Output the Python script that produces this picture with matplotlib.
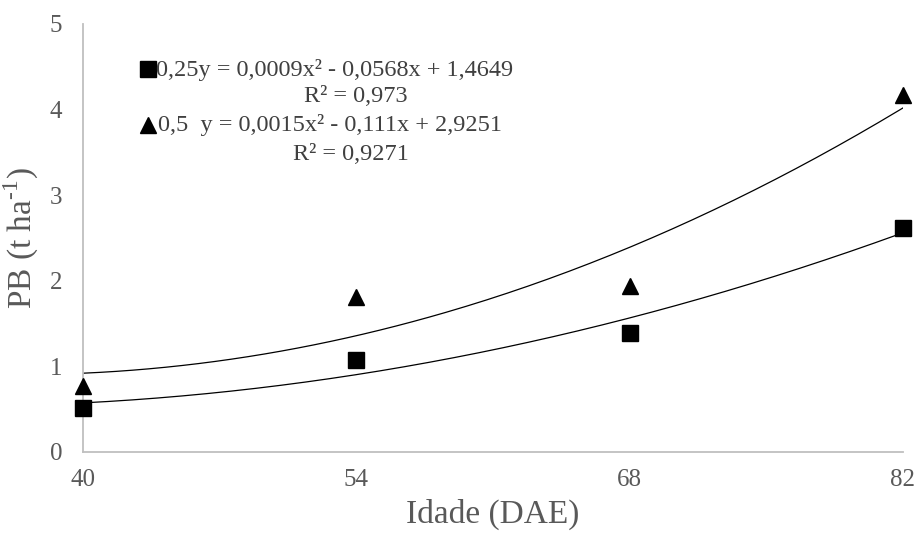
import numpy as np
import matplotlib
matplotlib.use("Agg")
import matplotlib.pyplot as plt

plt.rcParams["font.family"] = ["Liberation Serif", "DejaVu Serif"]
plt.rcParams["mathtext.fontset"] = "custom"
plt.rcParams["mathtext.rm"] = "Liberation Serif"

# data
idade = [40, 54, 68, 82]
pb_025 = [0.515, 1.08, 1.39, 2.62]
pb_05 = [0.77, 1.81, 1.94, 4.17]

eq_025 = "0,25y = 0,0009x² - 0,0568x + 1,4649"
r2_025 = "R² = 0,973"
eq_05 = "0,5  y = 0,0015x² - 0,111x + 2,9251"
r2_05 = "R² = 0,9271"

W, H = 918, 533
fig = plt.figure(figsize=(W / 100, H / 100), dpi=100)
ax = fig.add_axes([83 / W, 1 - 452 / H, (903 - 83) / W, (452 - 24) / H])


def px(x, y):
    return x / W, 1 - y / H


xs = np.linspace(40, 82, 200)
for y, m, ms in [(pb_025, "s", 11), (pb_05, "^", 12)]:
    coef = np.polyfit(idade, y, 2)
    ax.plot(xs, np.polyval(coef, xs), color="black", lw=0.9, zorder=2)
    ax.plot(idade, y, ls="none", marker=m, ms=ms, color="black", clip_on=False, zorder=3)

ax.set_xlim(40, 82)
ax.set_ylim(0, 5)
ax.set_xticks(idade)
ax.set_yticks(range(6))
ax.tick_params(length=0, labelsize=18, colors="#595959", pad=12)
ax.tick_params(axis="y", pad=15)
for s in ["top", "right"]:
    ax.spines[s].set_visible(False)
for s in ["left", "bottom"]:
    ax.spines[s].set_color("#bfbfbf")
    ax.spines[s].set_linewidth(1.3)

ax.set_xlabel("Idade (DAE)", fontsize=24, color="#595959", labelpad=6)
ax.set_ylabel(r"PB (t ha$^{\text{-}1}$)", fontsize=24, color="#595959", labelpad=6)

# trendline labels
txt = dict(fontsize=17.5, color="#404040", va="baseline", transform=fig.transFigure)
fig.text(*px(156, 76), eq_025, ha="left", **txt)
fig.text(*px(356, 102), r2_025, ha="center", **txt)
fig.text(*px(158, 131), eq_05, ha="left", **txt)
fig.text(*px(351, 160), r2_05, ha="center", **txt)
fig.add_artist(plt.Line2D([px(148, 69)[0]], [px(148, 69)[1]], marker="s", ms=11,
                          color="black", ls="none", transform=fig.transFigure))
fig.add_artist(plt.Line2D([px(148, 125)[0]], [px(148, 125)[1]], marker="^", ms=12,
                          color="black", ls="none", transform=fig.transFigure))

fig.savefig("out.png", dpi=100)
